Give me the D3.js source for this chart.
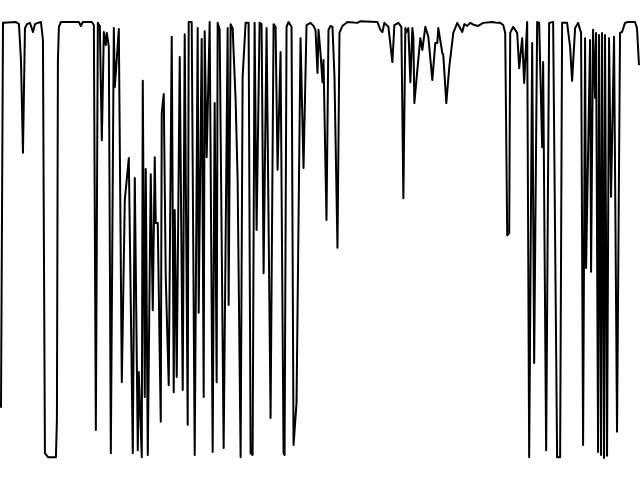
<!DOCTYPE html>
<html><head><meta charset="utf-8">
<script src="https://cdn.jsdelivr.net/npm/d3@7"></script>
<style>html,body{margin:0;padding:0;background:#fff;}svg{display:block;}</style>
</head><body>
<svg id="chart" width="640" height="480"></svg>
<script>
// Position along the spectrum (arbitrary units)
const positions = [0,2,15,18,20,22,24,26,29,32,34,37,40,42,44,47,55,56,57,58,60,78,80,82,91,93,95,97,99,101,103,105,106,108,110,113,114,118,121,124,128,132,134,137,138,141,142,144,145,147,150,152,154,155,157,160,161,163,165,168,171,173,174,176,179,182,184,187,188,191,194,197,198,201,203,204,206,209,212,214,216,217,219,223,227,228,230,232,235,237,240,242,245,248,250,252,254,256,259,261,263,266,270,273,275,277,280,283,284,286,288,291,293,296,300,303,306,310,313,315,317,318,320,322,323,326,328,330,332,334,337,339,342,347,357,360,377,380,382,384,388,392,394,398,401,403,405,406,408,410,412,413,414,417,420,422,425,428,432,435,437,438,442,443,446,449,453,457,462,464,467,470,474,478,483,492,497,500,503,505,507,509,510,513,517,519,522,524,527,529,532,534,537,539,542,543,546,549,553,557,560,562,567,570,572,575,578,581,583,585,586,590,591,593,595,596,598,599,601,602,604,605,607,609,611,614,617,620,622,625,628,635,637,639];
// Transmittance (%)
const transmittance = [11.5,99.8,100,99.5,91.3,70.0,98.6,99.5,99.8,97.7,99.5,99.8,100,95.9,1.1,0.2,0.2,8.7,91.3,98.9,100,100,99.1,100,100,99.3,6.4,99.8,99.1,72.9,97.7,94.7,97.5,94.3,1.1,98.6,85.1,98.4,17.4,59.2,68.8,1.1,64.2,1.8,19.7,0.2,86.5,14.0,66.3,0.7,65.1,33.9,69.0,53.9,53.9,8.3,79.1,83.5,41.5,16.7,96.6,15.1,56.9,18.6,92.0,15.6,97.2,7.6,100,100,0.7,98.6,33.3,96.1,14.0,97.9,69.0,100,1.4,81.4,17.4,99.8,98.2,2.3,98.6,35.1,99.5,98.6,82.1,63.8,0.2,87.4,99.8,99.8,1.1,0.7,99.8,52.3,99.8,99.5,42.4,98.6,9.2,99.5,98.9,66.1,93.1,1.1,0.7,98.9,100,98.9,3.0,12.6,96.3,66.5,99.3,99.8,99.1,98.2,88.3,98.2,92.9,86.2,91.3,54.6,98.2,99.1,98.9,87.4,48.2,97.5,99.1,100,99.8,100.2,100,98.2,97.7,99.8,98.9,90.8,99.3,99.8,98.9,59.6,98.6,97.7,98.6,86.2,98.6,96.6,81.4,89.0,96.3,93.6,98.9,96.6,86.7,95.2,95.2,98.6,92.9,92.4,81.4,89.7,97.5,99.8,97.7,99.5,99.1,99.8,99.3,99.1,99.8,100,99.8,99.8,99.3,97.5,51.1,51.6,97.5,98.9,97.5,89.4,96.3,86.0,100,0.2,95.2,21.8,100,99.8,71.3,90.8,1.8,99.8,100,0.2,0.2,99.8,99.8,94.3,86.5,98.6,99.8,97.5,3.0,96.3,43.6,95.9,42.7,98.2,82.6,97.5,1.4,97.0,0.7,97.5,0,97.0,0.5,96.3,59.9,96.6,6.0,97.5,97.7,99.8,100,100,98.6,90.1];

const svg = d3.select("#chart");
const W = 640, H = 480;
const x = d3.scaleLinear().domain([0, 639]).range([1, 639]);
const y = d3.scaleLinear().domain([0, 100]).range([458, 22]);

const data = positions.map((p, i) => ({p, t: transmittance[i]}));
const line = d3.line().x(d => x(d.p)).y(d => y(d.t)).curve(d3.curveLinear);

svg.append("rect").attr("width", W).attr("height", H).attr("fill", "#fff");
svg.append("path")
  .datum(data)
  .attr("fill", "none")
  .attr("stroke", "#000")
  .attr("stroke-width", 2)
  .attr("stroke-linejoin", "round")
  .attr("d", line);
</script>
</body></html>
